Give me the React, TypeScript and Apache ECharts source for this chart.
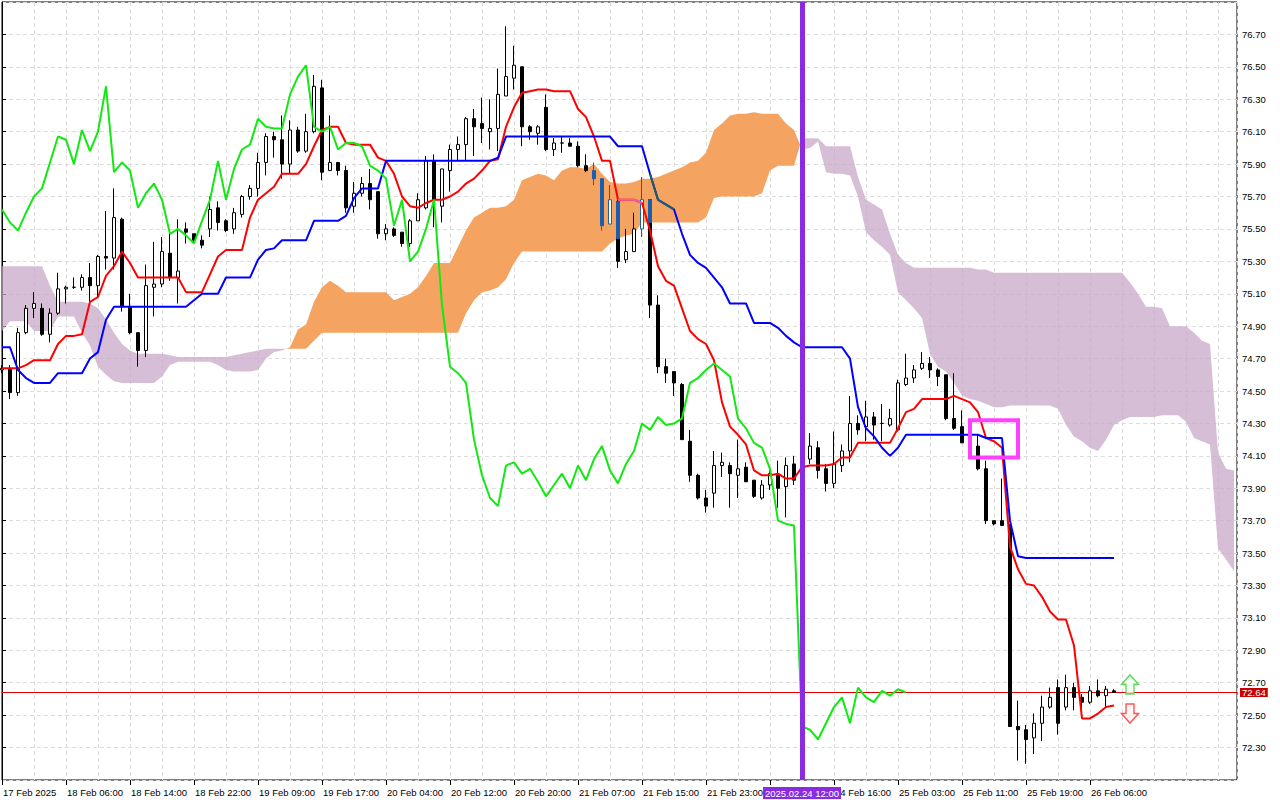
import React, { useEffect, useRef } from 'react';
import * as echarts from 'echarts';

// ---- candles (bar index = position in arrays) ----
const opens = [
  74.63, 74.64, 74.49, 74.86, 75.01, 75.01, 74.85, 74.98, 75.13, 75.14,
  75.14, 75.20, 75.15, 75.33, 75.32, 75.56, 75.02, 74.86, 74.75, 75.14,
  75.16, 75.35, 75.20, 75.50, 75.47, 75.43, 75.50, 75.63, 75.55, 75.50,
  75.59, 75.70, 75.75, 75.91, 76.07, 76.05, 75.90, 76.11, 75.98, 76.10,
  76.37, 75.86, 75.91, 75.86, 75.64, 75.72, 75.78, 75.73, 75.47, 75.50,
  75.48, 75.41, 75.55, 75.63, 75.92, 75.64, 75.86, 75.99, 76.02, 76.18,
  76.15, 76.10, 76.12, 76.32, 76.43, 76.50, 76.13, 76.09, 76.25, 75.99,
  76.03, 76.03, 76.01, 75.89, 75.86, 75.81, 75.53, 75.67, 75.31, 75.36,
  75.50, 75.68, 75.03, 74.65, 74.62, 74.54, 74.19, 73.98, 73.84, 73.87,
  74.04, 74.04, 73.98, 74.03, 73.95, 73.84, 73.92, 73.98, 73.91, 74.05,
  73.95, 74.08, 74.15, 74.02, 73.93, 74.04, 74.13, 74.30, 74.28, 74.34,
  74.30, 74.29, 74.26, 74.54, 74.58, 74.64, 74.67, 74.63, 74.60, 74.33,
  74.28, 74.18, 74.16, 74.02, 73.70, 73.70, 73.67, 72.43, 72.41, 72.36,
  72.45, 72.55, 72.67, 72.55, 72.67, 72.61, 72.58, 72.65, 72.62, 72.65,
];
const closes = [
  74.64, 74.49, 74.86, 75.01, 75.04, 74.85, 74.98, 75.13, 75.14, 75.14,
  75.20, 75.15, 75.33, 75.32, 75.57, 75.02, 74.86, 74.75, 75.15, 75.16,
  75.36, 75.20, 75.24, 75.48, 75.43, 75.40, 75.62, 75.54, 75.49, 75.60,
  75.70, 75.75, 75.91, 76.07, 76.05, 75.90, 76.11, 75.98, 76.10, 76.38,
  75.85, 75.91, 75.86, 75.63, 75.72, 75.78, 75.68, 75.47, 75.50, 75.46,
  75.41, 75.55, 75.68, 75.92, 75.68, 75.87, 75.99, 76.02, 76.18, 76.13,
  76.12, 76.12, 76.33, 76.44, 76.51, 76.13, 76.10, 76.13, 75.99, 76.03,
  76.03, 76.01, 75.89, 75.86, 75.81, 75.52, 75.68, 75.30, 75.36, 75.50,
  75.68, 75.03, 74.65, 74.61, 74.55, 74.20, 73.98, 73.84, 73.79, 74.04,
  74.06, 73.99, 74.02, 73.94, 73.85, 73.92, 73.99, 73.90, 74.04, 73.95,
  74.08, 74.16, 74.01, 73.93, 74.05, 74.13, 74.30, 74.26, 74.34, 74.29,
  74.30, 74.33, 74.55, 74.58, 74.63, 74.67, 74.63, 74.59, 74.33, 74.27,
  74.18, 74.15, 74.02, 73.70, 73.68, 73.67, 72.43, 72.41, 72.35, 72.45,
  72.55, 72.61, 72.45, 72.67, 72.61, 72.58, 72.65, 72.62, 72.66, 72.64,
];
const lows = [
  74.61, 74.45, 74.47, 74.85, 74.95, 74.84, 74.80, 74.97, 75.04, 75.13,
  75.12, 75.04, 75.08, 75.25, 75.25, 74.99, 74.85, 74.65, 74.71, 74.96,
  75.14, 75.18, 75.04, 75.41, 75.42, 75.38, 75.45, 75.49, 75.48, 75.47,
  75.57, 75.68, 75.70, 75.83, 75.94, 75.81, 75.84, 75.97, 75.97, 76.09,
  75.80, 75.86, 75.83, 75.60, 75.60, 75.70, 75.62, 75.44, 75.43, 75.45,
  75.39, 75.39, 75.55, 75.62, 75.51, 75.54, 75.73, 75.92, 75.92, 75.95,
  76.03, 75.99, 75.98, 76.32, 76.36, 76.01, 76.05, 76.02, 75.98, 75.95,
  75.97, 76.01, 75.88, 75.85, 75.77, 75.49, 75.53, 75.26, 75.29, 75.36,
  75.45, 74.95, 74.61, 74.55, 74.47, 74.20, 73.94, 73.83, 73.75, 73.78,
  73.97, 73.78, 73.84, 73.94, 73.84, 73.83, 73.89, 73.78, 73.72, 73.92,
  73.90, 74.05, 73.96, 73.88, 73.90, 74.00, 74.06, 74.23, 74.19, 74.20,
  74.19, 74.28, 74.25, 74.53, 74.55, 74.63, 74.58, 74.53, 74.32, 74.26,
  74.18, 74.10, 74.01, 73.68, 73.67, 73.67, 72.43, 72.22, 72.20, 72.26,
  72.34, 72.54, 72.38, 72.53, 72.53, 72.53, 72.57, 72.61, 72.55, 72.64,
];
const highs = [
  74.66, 74.66, 74.89, 75.03, 75.11, 75.04, 75.01, 75.23, 75.15, 75.20,
  75.22, 75.29, 75.34, 75.61, 75.75, 75.57, 75.10, 74.86, 75.28, 75.42,
  75.45, 75.47, 75.56, 75.54, 75.47, 75.46, 75.70, 75.67, 75.56, 75.63,
  75.71, 75.77, 75.97, 76.09, 76.10, 76.20, 76.17, 76.13, 76.21, 76.45,
  76.42, 76.20, 75.91, 75.89, 75.79, 75.82, 75.87, 75.73, 75.53, 75.51,
  75.48, 75.56, 75.72, 75.95, 75.96, 75.87, 76.02, 76.07, 76.19, 76.24,
  76.31, 76.30, 76.49, 76.75, 76.63, 76.50, 76.14, 76.14, 76.33, 76.06,
  76.07, 76.06, 76.04, 75.96, 75.91, 75.81, 75.77, 75.68, 75.50, 75.60,
  75.82, 75.68, 75.09, 74.70, 74.62, 74.55, 74.26, 73.99, 73.89, 74.13,
  74.12, 74.06, 74.20, 74.06, 73.95, 73.95, 74.01, 74.07, 74.09, 74.10,
  74.12, 74.24, 74.19, 74.05, 74.25, 74.17, 74.47, 74.35, 74.44, 74.37,
  74.42, 74.39, 74.57, 74.73, 74.66, 74.74, 74.71, 74.64, 74.60, 74.61,
  74.38, 74.26, 74.23, 74.07, 73.70, 73.96, 73.68, 72.59, 72.44, 72.51,
  72.62, 72.67, 72.72, 72.75, 72.70, 72.63, 72.68, 72.72, 72.68, 72.66,
];

// ---- Ichimoku lines ----
const tenkan = [
  74.64, 74.64, 74.64, 74.66, 74.69, 74.69, 74.69, 74.79, 74.84, 74.84,
  74.85, 75.05, 75.08, 75.21, 75.27, 75.36, 75.29, 75.20, 75.20, 75.20,
  75.20, 75.20, 75.20, 75.11, 75.11, 75.11, 75.22, 75.33, 75.37, 75.37,
  75.37, 75.57, 75.68, 75.72, 75.76, 75.84, 75.84, 75.84, 75.90, 76.01,
  76.11, 76.13, 76.13, 76.03, 76.02, 76.02, 76.02, 75.94, 75.92, 75.84,
  75.70, 75.64, 75.63, 75.66, 75.68, 75.68, 75.70, 75.73, 75.78, 75.81,
  75.86, 75.92, 75.93, 76.13, 76.25, 76.34, 76.35, 76.36, 76.36, 76.35,
  76.35, 76.35, 76.24, 76.19, 76.07, 75.92, 75.92, 75.68, 75.68, 75.68,
  75.66, 75.49, 75.27, 75.18, 75.15, 75.01, 74.87, 74.82, 74.79, 74.69,
  74.43, 74.28, 74.23, 74.17, 74.01, 73.98, 73.98, 73.99, 73.96, 73.96,
  74.03, 74.04, 74.04, 74.04, 74.05, 74.09, 74.09, 74.18, 74.18, 74.18,
  74.18, 74.18, 74.27, 74.37, 74.39, 74.45, 74.45, 74.45, 74.45, 74.47,
  74.45, 74.43, 74.37, 74.21, 74.19, 74.15, 73.54, 73.40, 73.31, 73.30,
  73.23, 73.14, 73.09, 73.09, 72.93, 72.48, 72.48, 72.51, 72.55, 72.56,
];
const kijun = [
  74.77, 74.77, 74.63, 74.58, 74.55, 74.55, 74.55, 74.61, 74.61, 74.61,
  74.61, 74.70, 74.74, 74.94, 75.02, 75.02, 75.02, 75.02, 75.02, 75.02,
  75.02, 75.02, 75.02, 75.02, 75.06, 75.10, 75.10, 75.10, 75.20, 75.20,
  75.20, 75.20, 75.31, 75.37, 75.38, 75.43, 75.43, 75.43, 75.43, 75.55,
  75.55, 75.55, 75.55, 75.58, 75.69, 75.75, 75.75, 75.75, 75.92, 75.92,
  75.92, 75.92, 75.92, 75.92, 75.92, 75.92, 75.92, 75.92, 75.92, 75.92,
  75.92, 75.92, 75.94, 76.07, 76.07, 76.07, 76.07, 76.07, 76.07, 76.07,
  76.07, 76.07, 76.07, 76.07, 76.07, 76.07, 76.07, 76.01, 76.01, 76.01,
  76.01, 75.84, 75.68, 75.65, 75.62, 75.47, 75.34, 75.29, 75.26, 75.20,
  75.14, 75.04, 75.04, 75.04, 74.92, 74.92, 74.92, 74.89, 74.84, 74.80,
  74.77, 74.77, 74.77, 74.77, 74.77, 74.77, 74.70, 74.40, 74.27, 74.22,
  74.15, 74.10, 74.15, 74.23, 74.23, 74.23, 74.23, 74.23, 74.23, 74.23,
  74.23, 74.23, 74.23, 74.21, 74.21, 74.21, 73.70, 73.48, 73.47, 73.47,
  73.47, 73.47, 73.47, 73.47, 73.47, 73.47, 73.47, 73.47, 73.47, 73.47,
];
// Chikou span = closes drawn 26 bars back
const CHIKOU_SHIFT = 26;

// Senkou spans (drawn 26 bars forward, so they run to bar 154)
const spanA = [
  74.87, 74.93, 74.93, 74.93, 74.87, 74.87, 74.87, 74.96, 74.96, 74.96,
  74.86, 74.78, 74.65, 74.60, 74.56, 74.55, 74.55, 74.55, 74.55, 74.55,
  74.59, 74.66, 74.68, 74.68, 74.68, 74.68, 74.68, 74.66, 74.63, 74.62,
  74.62, 74.62, 74.63, 74.70, 74.74, 74.75, 74.77, 74.88, 74.91, 75.05,
  75.14, 75.18, 75.15, 75.11, 75.11, 75.11, 75.11, 75.11, 75.11, 75.06,
  75.08, 75.10, 75.14, 75.21, 75.29, 75.29, 75.29, 75.39, 75.49, 75.57,
  75.60, 75.63, 75.63, 75.64, 75.68, 75.80, 75.82, 75.84, 75.83, 75.80,
  75.86, 75.88, 75.88, 75.87, 75.90, 75.84, 75.79, 75.78, 75.78, 75.79,
  75.81, 75.81, 75.82, 75.84, 75.86, 75.88, 75.91, 75.92, 75.97, 76.11,
  76.15, 76.20, 76.21, 76.21, 76.22, 76.21, 76.21, 76.21, 76.15, 76.11,
  75.99, 76.00, 76.04, 75.85, 75.84, 75.84, 75.83, 75.70, 75.48, 75.43,
  75.39, 75.34, 75.11, 75.06, 75.01, 74.95, 74.73, 74.65, 74.62, 74.55,
  74.47, 74.45, 74.44, 74.42, 74.40, 74.40, 74.41, 74.41, 74.41, 74.41,
  74.41, 74.41, 74.39, 74.29, 74.22, 74.19, 74.15, 74.13, 74.20, 74.29,
  74.32, 74.34, 74.34, 74.34, 74.34, 74.35, 74.35, 74.35, 74.31, 74.21,
  74.19, 74.17, 73.53, 73.46, 73.39,
];
const spanB = [
  75.27, 75.27, 75.27, 75.27, 75.27, 75.27, 75.15, 75.05, 75.05, 75.05,
  75.05, 75.04, 75.01, 74.94, 74.86, 74.79, 74.75, 74.73, 74.73, 74.73,
  74.73, 74.72, 74.71, 74.71, 74.71, 74.71, 74.71, 74.71, 74.71, 74.72,
  74.73, 74.74, 74.75, 74.76, 74.76, 74.76, 74.76, 74.76, 74.76, 74.81,
  74.86, 74.86, 74.86, 74.86, 74.86, 74.86, 74.86, 74.86, 74.86, 74.86,
  74.86, 74.86, 74.86, 74.86, 74.86, 74.86, 74.86, 74.86, 74.98, 75.06,
  75.11, 75.12, 75.14, 75.19, 75.29, 75.36, 75.36, 75.36, 75.36, 75.36,
  75.36, 75.36, 75.36, 75.36, 75.36, 75.36, 75.41, 75.44, 75.46, 75.47,
  75.54, 75.54, 75.54, 75.54, 75.54, 75.54, 75.54, 75.54, 75.57, 75.69,
  75.70, 75.70, 75.70, 75.70, 75.70, 75.72, 75.86, 75.89, 75.89, 75.89,
  76.06, 76.06, 76.06, 76.01, 76.01, 76.01, 76.01, 75.82, 75.68, 75.65,
  75.62, 75.47, 75.34, 75.29, 75.26, 75.26, 75.26, 75.26, 75.26, 75.26,
  75.26, 75.26, 75.25, 75.25, 75.23, 75.23, 75.23, 75.23, 75.23, 75.23,
  75.23, 75.23, 75.23, 75.23, 75.23, 75.23, 75.23, 75.23, 75.23, 75.23,
  75.23, 75.17, 75.10, 75.02, 75.02, 75.01, 74.90, 74.90, 74.90, 74.86,
  74.81, 74.79, 74.12, 74.02, 74.01,
];

// candles whose bodies sit inside the orange cloud (drawn blue in the original)
const cloudBlueBars = [74, 75, 76, 80];
const overlapBars = [77, 81];
const overlapTop = [75.67, 75.68];
const overlapBottom = [75.44, 75.54];
// parts of the Tenkan / Kijun lines that run inside the orange cloud
const tenkanInCloud = [77, 80];
const kijunInCloud = [81, 84];

// ---- axis ticks / annotations ----
const timeTickBars = [0, 8, 16, 24, 32, 40, 48, 56, 64, 72, 80, 88, 96, 104, 112, 120, 128, 136];
const timeTickLabels = [
  '17 Feb 2025', '18 Feb 06:00', '18 Feb 14:00', '18 Feb 22:00', '19 Feb 09:00', '19 Feb 17:00',
  '20 Feb 04:00', '20 Feb 12:00', '20 Feb 20:00', '21 Feb 07:00', '21 Feb 15:00', '21 Feb 23:00',
  '', '24 Feb 16:00', '25 Feb 03:00', '25 Feb 11:00', '25 Feb 19:00', '26 Feb 06:00',
];
const priceMin = 72.1;
const priceMax = 76.9;
const priceStep = 0.2;
const vLineBar = 100;
const vLineLabel = '2025.02.24 12:00';
const bidPrice = 72.64;
const rectCorners = [[121, 74.32], [127, 74.09]];
const arrowBar = 141;
const arrowUpPrice = 72.69;
const arrowDownPrice = 72.51;

const X_MAX = 154.375;
const FONT = "'Liberation Sans', Arial, sans-serif";
const ORANGE = '#F4A460';
const PURPLE = 'rgba(200,168,200,0.75)';
const BLUE_C = '#1b5ead';

function renderCloud(_params: any, api: any) {
  const regions: { sign: number; pts: number[][] }[] = [];
  let top: number[][] = [];
  let bot: number[][] = [];
  let sign = 0;
  for (let i = 0; i < spanA.length; i++) {
    const d = spanA[i] - spanB[i];
    const s = d >= 0 ? 1 : -1;
    if (i > 0 && s !== sign) {
      const dp = spanA[i - 1] - spanB[i - 1];
      const t = dp / (dp - d);
      const cross = [i - 1 + t, spanA[i - 1] + t * (spanA[i] - spanA[i - 1])];
      top.push(cross);
      bot.push(cross);
      regions.push({ sign, pts: top.concat(bot.slice().reverse()) });
      top = [cross];
      bot = [cross];
    }
    sign = s;
    top.push([i, spanA[i]]);
    bot.push([i, spanB[i]]);
  }
  regions.push({ sign, pts: top.concat(bot.slice().reverse()) });
  return {
    type: 'group',
    children: regions.map((r) => ({
      type: 'polygon',
      shape: { points: r.pts.map((p) => api.coord(p)) },
      style: { fill: r.sign > 0 ? ORANGE : PURPLE },
    })),
  };
}

function buildOption() {
  const candleData = opens.map((o, i) => {
    const value = [i, o, closes[i], lows[i], highs[i]];
    if (cloudBlueBars.indexOf(i) >= 0) {
      const bull = closes[i] > o;
      return {
        value,
        itemStyle: {
          color: bull ? '#ffffff' : BLUE_C,
          color0: BLUE_C,
          borderColor: BLUE_C,
          borderColor0: BLUE_C,
        },
      };
    }
    return value;
  });
  const overlapData = overlapBars.map((b, k) => [b, overlapTop[k], overlapBottom[k], overlapBottom[k], overlapTop[k]]);
  const line = (arr: number[]) => arr.map((v, i) => [i, v]);
  const segment = (arr: number[], range: number[]) =>
    arr.slice(range[0], range[1] + 1).map((v, k) => [range[0] + k, v]);
  const chikou = closes.slice(CHIKOU_SHIFT).map((v, i) => [i, v]);

  const labelStyle = { fontSize: 9.5, color: '#000', fontFamily: FONT };

  return {
    animation: false,
    backgroundColor: '#ffffff',
    grid: {
      left: 2, right: 43, top: 2, bottom: 20,
      show: true, borderColor: '#000', borderWidth: 1, backgroundColor: '#ffffff',
    },
    xAxis: [
      {
        type: 'value', min: 0, max: X_MAX, interval: 4,
        axisLine: { show: false }, axisTick: { show: false }, axisLabel: { show: false },
        splitLine: { show: true, lineStyle: { color: '#dcdcdc', type: [4, 3], width: 1 } },
      },
      {
        type: 'value', min: 0, max: X_MAX, interval: 8, position: 'bottom',
        axisLine: { show: false },
        axisTick: { show: true, customValues: timeTickBars, length: 5, lineStyle: { color: '#000' } },
        axisLabel: {
          ...labelStyle,
          customValues: timeTickBars,
          align: 'left',
          margin: 7,
          padding: [0, 0, 0, 1],
          formatter: (v: number) => {
            const k = timeTickBars.indexOf(Math.round(v));
            return Math.abs(v - Math.round(v)) < 1e-6 && k >= 0 ? timeTickLabels[k] : '';
          },
        },
        splitLine: { show: false },
      },
    ],
    yAxis: {
      type: 'value', position: 'right', min: priceMin, max: priceMax, interval: priceStep, scale: true,
      axisLine: { show: true, lineStyle: { color: '#000' } },
      axisTick: { show: true, length: 4, lineStyle: { color: '#000' } },
      axisLabel: {
        ...labelStyle, margin: 5, showMinLabel: false, showMaxLabel: false,
        formatter: (v: number) => v.toFixed(2),
      },
      splitLine: { show: true, lineStyle: { color: '#dcdcdc', type: [4, 3], width: 1 } },
    },
    series: [
      {
        type: 'custom', name: 'cloud', renderItem: renderCloud, data: [[0, 74]],
        silent: true, clip: true, z: 1,
      },
      {
        type: 'candlestick', name: 'price', data: candleData, barWidth: 4, z: 3,
        itemStyle: {
          color: '#ffffff', color0: '#000000', borderColor: '#000000', borderColor0: '#000000',
          borderColorDoji: '#000000', borderWidth: 1,
        },
      },
      {
        type: 'candlestick', name: 'overlap', data: overlapData, barWidth: 4, z: 3,
        itemStyle: { color: BLUE_C, color0: BLUE_C, borderColor: BLUE_C, borderColor0: BLUE_C, borderWidth: 1 },
      },
      {
        type: 'line', name: 'tenkan', data: line(tenkan), showSymbol: false, symbol: 'none', z: 4,
        lineStyle: { color: '#ff0000', width: 2 },
      },
      {
        type: 'line', name: 'tenkanCloud', data: segment(tenkan, tenkanInCloud), showSymbol: false,
        symbol: 'none', z: 4, silent: true, lineStyle: { color: '#f0609c', width: 2 },
      },
      {
        type: 'line', name: 'kijun', data: line(kijun), showSymbol: false, symbol: 'none', z: 4,
        lineStyle: { color: '#0000ff', width: 2 },
        markLine: {
          silent: true, symbol: ['none', 'none'], z: 2, animation: false,
          data: [
            {
              yAxis: bidPrice,
              lineStyle: { color: '#e00000', width: 1, type: 'solid' },
              label: {
                show: true, position: 'end', formatter: bidPrice.toFixed(2), color: '#ffffff',
                backgroundColor: '#c80000', padding: [0, 2, 0, 2], lineHeight: 9, distance: 3,
                fontSize: 9.5, fontFamily: FONT,
              },
            },
          ],
        },
      },
      {
        type: 'line', name: 'kijunCloud', data: segment(kijun, kijunInCloud), showSymbol: false,
        symbol: 'none', z: 4, silent: true, lineStyle: { color: '#1e5f5f', width: 2 },
      },
      {
        type: 'line', name: 'chikou', data: chikou, showSymbol: false, symbol: 'none', z: 4,
        lineStyle: { color: '#12e812', width: 2 },
        markLine: {
          silent: true, symbol: ['none', 'none'], z: 10, animation: false,
          data: [
            {
              xAxis: vLineBar,
              lineStyle: { color: '#8a2be2', width: 5, type: 'solid' },
              label: {
                show: true, position: 'start', formatter: vLineLabel, color: '#ffffff',
                backgroundColor: '#8a2be2', padding: [1, 2, 1, 2], distance: 7,
                fontSize: 9.5, fontFamily: FONT,
              },
            },
          ],
        },
        markArea: {
          silent: true, z: 6,
          itemStyle: { color: 'rgba(0,0,0,0)', borderColor: '#ff40ff', borderWidth: 4 },
          data: [[
            { xAxis: rectCorners[0][0], yAxis: rectCorners[0][1] },
            { xAxis: rectCorners[1][0], yAxis: rectCorners[1][1] },
          ]],
        },
      },
      {
        type: 'scatter', name: 'up', z: 6, silent: true,
        data: [[arrowBar, arrowUpPrice]],
        symbol: 'path://M8.5,0 L17,9.5 L12.5,9.5 L12.5,19 L4.5,19 L4.5,9.5 L0,9.5 Z',
        symbolSize: [17, 19],
        itemStyle: { color: '#f4fff0', borderColor: '#3ccf3c', borderWidth: 1.5 },
      },
      {
        type: 'scatter', name: 'down', z: 6, silent: true,
        data: [[arrowBar, arrowDownPrice]],
        symbol: 'path://M4.5,0 L12.5,0 L12.5,9.5 L17,9.5 L8.5,19 L0,9.5 L4.5,9.5 Z',
        symbolSize: [17, 19],
        itemStyle: { color: '#fff4f4', borderColor: '#ff3030', borderWidth: 1.5 },
      },
    ],
  };
}

export default function App() {
  const ref = useRef<HTMLDivElement>(null);
  useEffect(() => {
    document.body.style.margin = '0';
    const chart = echarts.init(ref.current as HTMLDivElement, null, { renderer: 'svg' });
    chart.setOption(buildOption() as any);
    return () => chart.dispose();
  }, []);
  return <div ref={ref} style={{ width: 1280, height: 800, background: '#fff' }} />;
}
